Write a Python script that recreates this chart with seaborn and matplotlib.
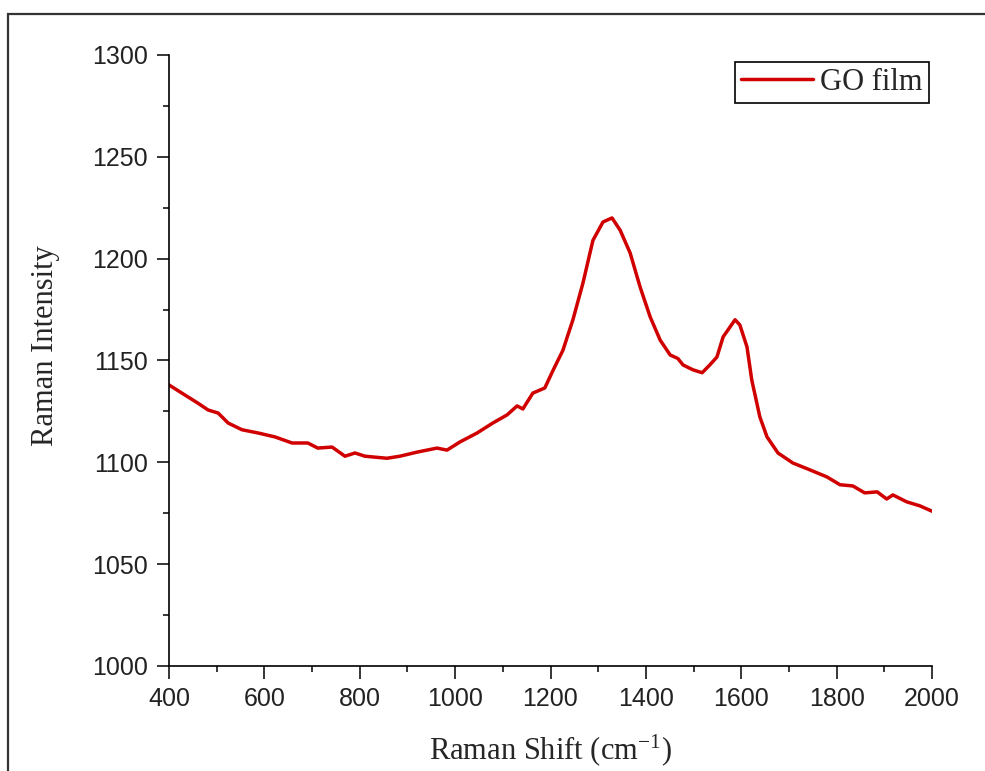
import pandas as pd
import matplotlib
matplotlib.use('Agg')
import matplotlib.pyplot as plt
from matplotlib.patches import Rectangle
from matplotlib.ticker import MultipleLocator
import seaborn as sns

# Raman spectrum of the GO film
raman_shift = [
    400, 427, 461, 482, 503, 524, 553, 587, 622, 658, 691, 712, 742, 769, 790,
    811, 857, 884, 920, 962, 983, 1010, 1046, 1079, 1109, 1130, 1142, 1163,
    1188, 1205, 1226, 1247, 1268, 1289, 1310, 1329, 1346, 1367, 1388, 1409,
    1430, 1451, 1467, 1478, 1499, 1518, 1534, 1549, 1562, 1587, 1597, 1612,
    1622, 1639, 1654, 1677, 1708, 1744, 1780, 1807, 1834, 1859, 1885, 1905,
    1918, 1947, 1975, 2000,
]
intensity = [
    1138.0, 1134.0, 1129.0, 1125.7, 1124.2, 1119.3, 1116.0, 1114.4, 1112.5,
    1109.5, 1109.5, 1107.0, 1107.5, 1103.0, 1104.6, 1103.0, 1102.0, 1103.0,
    1105.0, 1107.0, 1106.0, 1110.0, 1114.4, 1119.3, 1123.3, 1127.7, 1126.2,
    1134.0, 1136.5, 1145.0, 1155.0, 1170.0, 1188.0, 1209.0, 1218.0, 1220.0,
    1214.0, 1202.8, 1186.0, 1171.4, 1160.0, 1152.7, 1151.0, 1147.8, 1145.4,
    1144.0, 1147.8, 1151.7, 1161.6, 1170.0, 1167.5, 1156.7, 1140.5, 1122.3,
    1112.5, 1104.6, 1099.7, 1096.3, 1092.8, 1089.0, 1088.4, 1085.0, 1085.5,
    1082.0, 1084.0, 1080.6, 1078.6, 1076.0,
]
x_ticks = [400, 600, 800, 1000, 1200, 1400, 1600, 1800, 2000]
y_ticks = [1000, 1050, 1100, 1150, 1200, 1250, 1300]

sns.set_style('ticks')
plt.rcParams['font.family'] = ['Liberation Sans', 'DejaVu Sans']
plt.rcParams['mathtext.fontset'] = 'custom'
plt.rcParams['mathtext.rm'] = 'Liberation Serif'
plt.rcParams['mathtext.it'] = 'Liberation Serif:italic'

df = pd.DataFrame({'Raman Shift': raman_shift, 'Raman Intensity': intensity})

fig = plt.figure(figsize=(9.85, 7.71), dpi=100)
ax = fig.add_axes([169 / 985, 1 - 666 / 771, 763 / 985, 611 / 771])

sns.lineplot(data=df, x='Raman Shift', y='Raman Intensity', ax=ax,
             color='#D00000', linewidth=2.5, label='GO film')

ax.set_xlim(400, 2000)
ax.set_ylim(1000, 1300)
ax.set_xticks(x_ticks)
ax.set_yticks(y_ticks)
ax.xaxis.set_minor_locator(MultipleLocator(100))
ax.yaxis.set_minor_locator(MultipleLocator(25))

for side in ['top', 'right']:
    ax.spines[side].set_visible(False)
for side in ['left', 'bottom']:
    ax.spines[side].set_linewidth(1.2)
    ax.spines[side].set_color('black')

ax.tick_params(which='major', direction='out', length=9, width=1.1,
               labelsize=18, labelcolor='#222222', pad=6, color='black')
ax.tick_params(which='minor', direction='out', length=4, width=1.1, color='black')

ax.set_xlabel('Raman Shift (cm$^{-1}$)', family='Liberation Serif', fontsize=22)
ax.set_ylabel('Raman Intensity', family='Liberation Serif', fontsize=22)
ax.xaxis.set_label_coords(0.5, -0.108)
ax.yaxis.set_label_coords(-0.143, 0.525)

leg = ax.legend(loc='upper right', bbox_to_anchor=(0.996, 0.9885),
                borderaxespad=0, frameon=True, fancybox=False,
                edgecolor='black', framealpha=1, handlelength=2.35,
                handletextpad=0.25, borderpad=0.2,
                prop={'family': 'Liberation Serif', 'size': 22})
leg.get_frame().set_linewidth(1.2)

# outer frame of the exported picture (runs off the right and bottom edges)
fig.add_artist(Rectangle((8 / 985, -0.5), 1.5, 0.5 + 1 - 14 / 771,
                         transform=fig.transFigure, fill=False,
                         edgecolor='#333333', linewidth=1.6, clip_on=False))

fig.savefig('out.png', dpi=100)
